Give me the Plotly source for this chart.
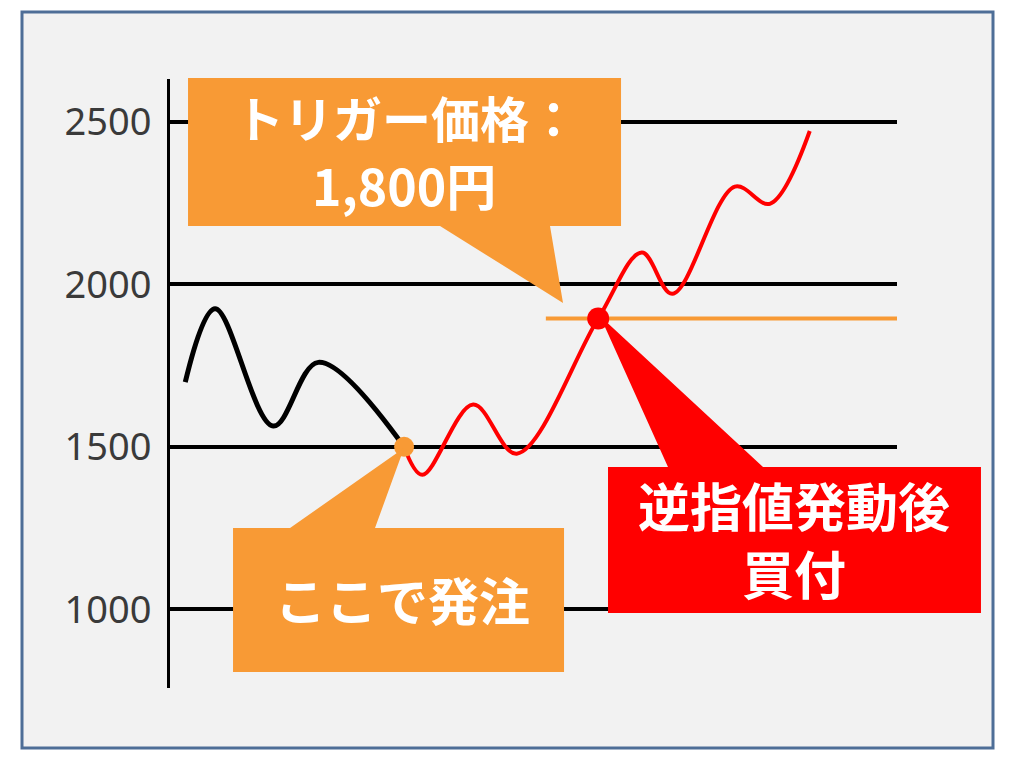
import plotly.graph_objects as go

# ---- data (time index 0-100, price in yen) ----
before_x = [2.1, 6.2, 14.2, 20.4, 32.2]
before_y = [1699, 1925, 1564, 1760, 1500]

after_x = [32.2, 34.7, 41.7, 47.7, 58.9, 64.9, 69.1, 77.7, 82.5, 88.0]
after_y = [1500, 1414, 1630, 1479, 1895, 2098, 1971, 2301, 2248, 2472]

trigger_x = [51.7, 100]
trigger_price = 1895

order_point = (32.2, 1500)
trigger_point = (58.9, 1895)

tick_vals = [1000, 1500, 2000, 2500]
tick_text = ["1000", "1500", "2000", "2500"]

ORANGE = "#F89A35"
RED = "#FF0000"

# page body has an 8px margin; keep figure inside the 1021x762 window
OFF = 8
W, H = 1021 - 2 * OFF, 762 - 2 * OFF
RL, RR, RT, RB = 170, 897, 79, 688          # plot area in window pixels


def px(x):
    return (x - RL) / (RR - RL)


def py(y):
    return (RB - y) / (RB - RT)


def path(points):
    return "M " + " L ".join(f"{px(a):.4f},{py(b):.4f}" for a, b in points) + " Z"


fig = go.Figure()

fig.add_trace(go.Scatter(x=trigger_x, y=[trigger_price] * 2, mode="lines",
                         line=dict(color=ORANGE, width=4), hoverinfo="skip"))
fig.add_trace(go.Scatter(x=before_x, y=before_y, mode="lines",
                         line=dict(color="black", width=5, shape="spline", smoothing=1)))
fig.add_trace(go.Scatter(x=after_x, y=after_y, mode="lines",
                         line=dict(color=RED, width=4, shape="spline", smoothing=1)))

shapes = [
    dict(type="rect", xref="paper", yref="paper",
         x0=px(22), x1=px(993), y0=py(12), y1=py(748),
         fillcolor="#F2F2F2", line=dict(color="#4E6E97", width=3), layer="below"),
    dict(type="path", xref="paper", yref="paper", layer="above",
         path=path([(188, 78), (621, 78), (621, 226), (550, 226), (563, 303),
                    (440, 226), (188, 226)]),
         fillcolor=ORANGE, line=dict(width=0)),
    dict(type="path", xref="paper", yref="paper", layer="above",
         path=path([(233, 528), (290, 528), (404, 448), (375, 528), (564, 528),
                    (564, 672), (233, 672)]),
         fillcolor=ORANGE, line=dict(width=0)),
    dict(type="path", xref="paper", yref="paper", layer="above",
         path=path([(608, 467), (668, 467), (600, 316), (763, 467), (981, 467),
                    (981, 613), (608, 613)]),
         fillcolor=RED, line=dict(width=0)),
]

fig.add_trace(go.Scatter(x=[order_point[0]], y=[order_point[1]], mode="markers",
                         marker=dict(color=ORANGE, size=20), hoverinfo="skip"))
fig.add_trace(go.Scatter(x=[trigger_point[0]], y=[trigger_point[1]], mode="markers",
                         marker=dict(color=RED, size=22), hoverinfo="skip"))

jp = "Noto Sans CJK JP"
common = dict(xref="paper", yref="paper", showarrow=False,
              xanchor="center", yanchor="middle", align="center")
annotations = [
    dict(text="<b>トリガー価格：</b>", x=px(406), y=py(116),
         font=dict(family=jp, size=49, color="white"), **common),
    dict(text="<b>1,800円</b>", x=px(404), y=py(184),
         font=dict(family=jp, size=50, color="white"), **common),
    dict(text="<b>ここで発注</b>", x=px(402), y=py(599),
         font=dict(family=jp, size=51, color="white"), **common),
    dict(text="<b>逆指値発動後</b><br><b>買付</b>", x=px(794), y=py(538),
         font=dict(family=jp, size=52, color="white"), **common),
]

fig.update_layout(
    width=W, height=H,
    margin=dict(l=RL - OFF, r=W - (RR - OFF), t=RT - OFF, b=H - (RB - OFF)),
    paper_bgcolor="white", plot_bgcolor="rgba(0,0,0,0)",
    showlegend=False,
    shapes=shapes, annotations=annotations,
    xaxis=dict(range=[0, 100], visible=False),
    yaxis=dict(range=[758, 2632], tickvals=tick_vals, ticktext=tick_text,
               showgrid=True, gridcolor="black", gridwidth=4,
               showline=True, linecolor="black", linewidth=3,
               zeroline=False, ticks="", ticklabelstandoff=8,
               tickfont=dict(family="Noto Sans", size=38, color="#3a3a3a")),
)

fig.write_html("out.html")
